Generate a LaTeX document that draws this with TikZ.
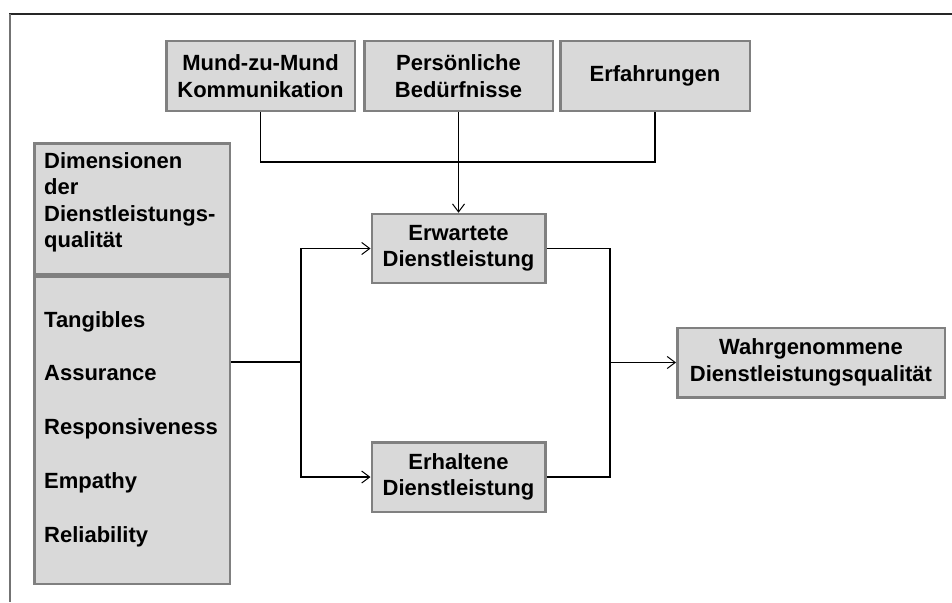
\documentclass[tikz,border=0pt]{standalone}
\usepackage{fontspec}
\setmainfont{Liberation Sans}
\usetikzlibrary{arrows.meta}
\definecolor{boxfill}{HTML}{D9D9D9}
\definecolor{boxline}{HTML}{808080}
\begin{document}
\begin{tikzpicture}[x=1pt,y=-1pt,
  box/.style={draw=boxline, fill=boxfill, line width=2.5pt, inner sep=0pt,
    font=\bfseries\fontsize{22}{26.5}\selectfont, align=center},
  conn/.style={line width=1.2pt, draw=black},
  arr/.style={conn, -{Straight Barb[length=8pt,width=12pt,line width=1pt]}},
  listtext/.style={inner sep=0pt, anchor=north west, align=left}
]
\useasboundingbox (0,0) rectangle (952,602);

% frame edges
\draw[black!85, line width=1.5pt] (9,14) -- (952,14);
\draw[black!55, line width=1.5pt] (10,14) -- (10,602);

% influencing factors
\node[box, minimum width=188.5pt, minimum height=69.5pt] (m1) at (260.5,76) {Mund-zu-Mund\\Kommunikation};
\node[box, minimum width=188.5pt, minimum height=69.5pt] (m2) at (458.5,76) {Persönliche\\Bedürfnisse};
\node[box, minimum width=189.5pt, minimum height=69.5pt] (m3) at (655,76) {Erfahrungen};

% expected / received service
\node[box, minimum width=173.5pt, minimum height=69pt] (erw) at (458.5,248.5) {Erwartete\\Dienstleistung};
\node[box, minimum width=173.5pt, minimum height=69.5pt] (erh) at (458.5,477) {Erhaltene\\Dienstleistung};

% perceived quality
\node[box, minimum width=267.5pt, minimum height=69.5pt] (wahr) at (811,362.5) {Wahrgenommene\\Dienstleistungsqualität};

% quality dimensions
\node[box, minimum width=195.5pt, minimum height=130.5pt] (dimhead) at (132,208.5) {};
\node[box, minimum width=195.5pt, minimum height=307.5pt] (dimlist) at (132,430) {};
\node[listtext, font=\bfseries\fontsize{22}{26.5}\selectfont] (dimtitle) at (44,152.3)
  {Dimensionen\\der\\Dienstleistungs-\\qualität};
\node[listtext, font=\bfseries\fontsize{22}{53.75}\selectfont] (dimitems) at (44,311)
  {Tangibles\\Assurance\\Responsiveness\\Empathy\\Reliability};

% connectors
\coordinate (hy) at (0,162);
\draw[conn] (m1.south) -- (m1.south |- hy) -- (m3.south |- hy) -- (m3.south);
\draw[conn] (m2.south) -- (m2.south |- hy);
\draw[arr, line width=1.8pt] (m2.south |- hy) -- (erw.north);

\coordinate (lj) at (301,362);
\draw[conn] (lj -| dimlist.east) -- (lj);
\draw[arr] (lj) |- (erw.west);
\draw[arr] (lj) |- (erh.west);

\coordinate (rj) at (610,362.5);
\draw[conn] (erw.east) -| (rj);
\draw[conn] (erh.east) -| (rj);
\draw[arr] (rj) -- (rj -| wahr.west);
\end{tikzpicture}
\end{document}
